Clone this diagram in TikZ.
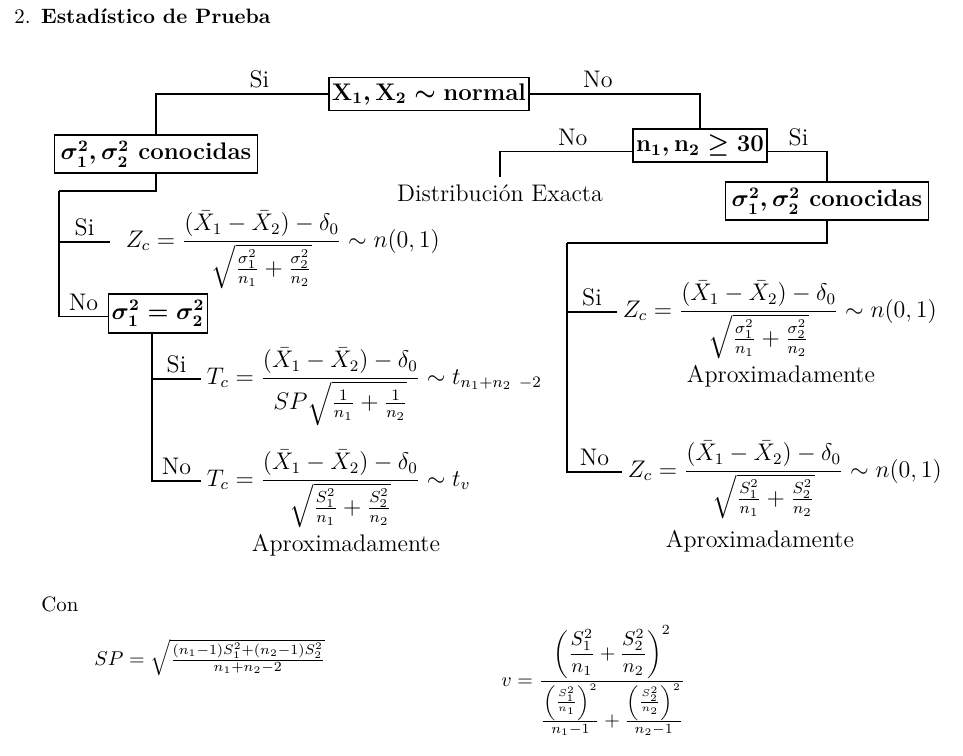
\documentclass[tikz,border=0pt]{standalone}
\usepackage{amsmath}
\newcommand{\difmedias}{(\bar{X}_1 - \bar{X}_2) - \delta_0}
\newcommand{\textonce}{\fontsize{10.4}{12.8}\selectfont}
\begin{document}
\begin{tikzpicture}[x=0.5pt, y=-0.5pt, line width=0.8pt,
    every node/.style={font=\large},
    decision/.style={draw, line width=0.8pt, inner sep=3pt, font=\large\bfseries\boldmath},
    formula/.style={anchor=base west, inner sep=2.5pt},
    lbl/.style={above, inner sep=2.5pt},
    texto/.style={anchor=base west, font=\textonce}]
  \useasboundingbox (0,0) rectangle (963,755);

  % title
  \node[texto] (titulo) at (7,24) {2.\hspace{0.5em}\textbf{Estadístico de Prueba}};

  % questions
  \node[decision, inner xsep=1.5pt] (normal) at (429,94) {$\mathbf{X_1, X_2 \sim normal}$};
  \node[decision] (conocL) at (156,154) {$\sigma_1^2, \sigma_2^2$ conocidas};
  \node[decision, inner xsep=1.5pt] (tamano) at (700,145.5) {$\mathbf{n_1, n_2 \geq 30}$};
  \node[decision] (conocR) at (827,201) {$\sigma_1^2, \sigma_2^2$ conocidas};
  \node[decision, inner xsep=1.5pt] (iguales) at (158,313.5) {$\sigma_1^2 = \sigma_2^2$};
  \node (exacta) at (500,193) {Distribución Exacta};

  % statistics
  \node[formula] (zL) at (120,247) {$\displaystyle Z_c = \frac{\difmedias}{\sqrt{\frac{\sigma_1^2}{n_1} + \frac{\sigma_2^2}{n_2}}} \sim n(0,1)$};
  \node[formula] (tSi) at (201,384) {$\displaystyle T_c = \frac{\difmedias}{SP\sqrt{\frac{1}{n_1} + \frac{1}{n_2}}} \sim t_{n_1+n_2\ -2}$};
  \node[formula] (tNo) at (201,486) {$\displaystyle T_c = \frac{\difmedias}{\sqrt{\frac{S_1^2}{n_1} + \frac{S_2^2}{n_2}}} \sim t_v$};
  \node[formula] (zRSi) at (617,317) {$\displaystyle Z_c = \frac{\difmedias}{\sqrt{\frac{\sigma_1^2}{n_1} + \frac{\sigma_2^2}{n_2}}} \sim n(0,1)$};
  \node[formula] (zRNo) at (622,477) {$\displaystyle Z_c = \frac{\difmedias}{\sqrt{\frac{S_1^2}{n_1} + \frac{S_2^2}{n_2}}} \sim n(0,1)$};
  \node (aproxT) at (346,545) {Aproximadamente};
  \node (aproxRSi) at (781,376) {Aproximadamente};
  \node (aproxRNo) at (760,541) {Aproximadamente};

  % connectors
  \coordinate (jL) at (59,191);
  \coordinate (jR) at (567,243);
  \draw (normal.west) -| node[lbl, pos=0.2] {Si} (conocL.north);
  \draw (normal.east) -| node[lbl, pos=0.2] {No} (tamano.north);
  \draw ([yshift=-3pt]tamano.west) -| node[lbl, pos=0.225] {No} (exacta.north);
  \draw ([yshift=-3pt]tamano.east) -| node[lbl, pos=0.26] {Si} (conocR.north);
  \draw (conocL.south) |- (jL);
  \draw (jL) |- node[lbl, pos=0.75] {Si} ([xshift=-5pt, yshift=2.5pt]zL.base west);
  \draw (jL) |- node[lbl, pos=0.75] {No} ([yshift=-1.5pt]iguales.west);
  \draw ([xshift=-3pt]iguales.south) |- node[lbl, pos=0.75] {Si} ([yshift=2.5pt]tSi.base west);
  \draw ([xshift=-3pt]iguales.south) |- node[lbl, pos=0.75] {No} ([yshift=2.5pt]tNo.base west);
  \draw (conocR.south) |- (jR);
  \draw (jR) |- node[lbl, pos=0.75] {Si} ([yshift=2.5pt]zRSi.base west);
  \draw (jR) |- node[lbl, pos=0.75] {No} ([yshift=2.5pt]zRNo.base west);

  % definitions
  \node[texto] (con) at (34,611) {Con};
  \node[texto] (sp) at (87,665) {$SP = \sqrt{\frac{(n_1-1)S_1^2+(n_2-1)S_2^2}{n_1+n_2-2}}$};
  \node[texto] (v) at (494,686) {$\displaystyle v = \frac{\left(\dfrac{S_1^2}{n_1} + \dfrac{S_2^2}{n_2}\right)^2}{\frac{\left(\frac{S_1^2}{n_1}\right)^2}{n_1-1} + \frac{\left(\frac{S_2^2}{n_2}\right)^2}{n_2-1}}$};
\end{tikzpicture}
\end{document}
